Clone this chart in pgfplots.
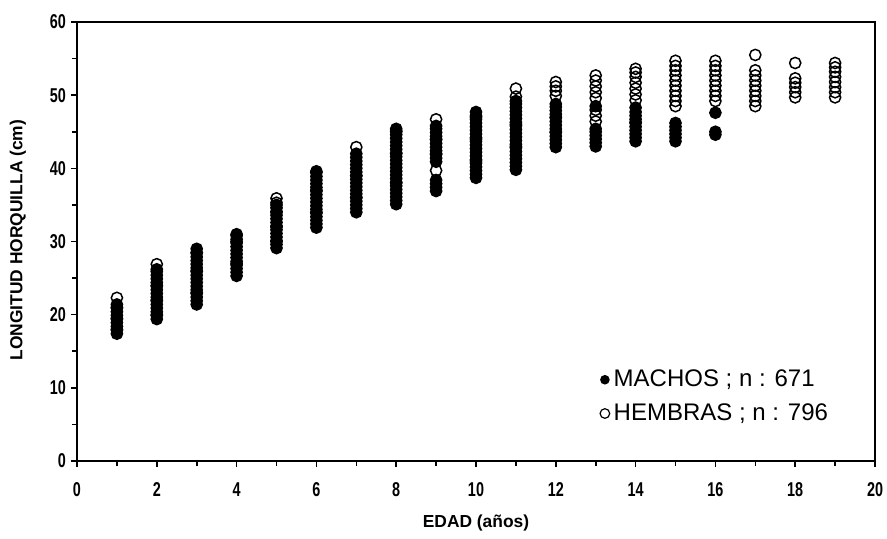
\documentclass[border=0pt]{standalone}
\usepackage{fontspec}
\setmainfont{Liberation Sans}
\newfontfamily\tickfont{Liberation Sans}[FakeStretch=0.72]
\usepackage{pgfplots}
\pgfplotsset{compat=1.18}

\begin{document}
\begin{tikzpicture}
\useasboundingbox (-38.5pt,-38.5pt) rectangle (405pt,230.5pt);
\begin{axis}[
    at={(0,0)}, anchor=south west,
    scale only axis,
    width=399pt, height=219.5pt,
    xmin=0, xmax=20, ymin=0, ymax=60,
    clip=false,
    axis lines=box,
    xtick={0,2,...,20}, minor xtick={1,3,...,19},
    ytick={0,10,...,60}, minor ytick={5,15,...,55},
    tick align=outside,
    xtick pos=left, ytick pos=left,
    major tick length=3pt, minor tick length=2.5pt,
    major tick style={black, line width=0.8pt},
    minor tick style={black, line width=0.8pt},
    axis line style={black, line width=1pt},
    /pgf/number format/assume math mode=true,
    ticklabel style={font=\tickfont\bfseries\fontsize{10}{12}\selectfont},
    xticklabel style={anchor=center, yshift=-11.5pt},
    yticklabel style={anchor=east, xshift=1pt},
    xlabel={EDAD (años)},
    ylabel={LONGITUD HORQUILLA (cm)},
    label style={font=\bfseries\fontsize{8.7}{10}\selectfont},
    xlabel style={at={(axis description cs:0.5,-0.141)}, anchor=center},
    ylabel style={at={(axis description cs:-0.074,0.503)}, anchor=center, rotate=0},
    legend style={at={(axis cs:12.95,8.8)}, anchor=west, draw=none, fill=none,
        font=\fontsize{12}{14}\selectfont, row sep=3pt,
        legend cell align=left},
    legend image code/.code={\draw[#1] plot coordinates {(0.15cm,0cm)};},
]
% top and right edges of the frame
\addplot[black, line width=1pt, no marks, forget plot] coordinates {(0,60) (20,60) (20,0)};
% hembras (open circles), drawn first
\addplot[only marks, mark=o, mark size=2.8pt, mark options={line width=0.75pt, draw=black, fill=white}, forget plot]
coordinates {
(1,18.0) (1,19.5) (1,21.0) (1,22.3)
(2,20.0) (2,22.0) (2,24.0) (2,26.9)
(3,23.0) (3,26.0) (3,28.5)
(4,27.0) (4,30.0)
(5,30.0) (5,32.0) (5,34.0) (5,35.3) (5,35.9)
(6,34.0) (6,37.0)
(7,36.0) (7,39.0) (7,42.9)
(8,38.0) (8,42.0) (8,45.0)
(9,39.7) (9,42.0) (9,44.0) (9,46.7)
(10,41.0) (10,44.0) (10,47.0)
(11,43.0) (11,46.0) (11,49.8) (11,50.9)
(12,45.0) (12,47.0) (12,49.9) (12,50.6) (12,51.2) (12,51.8)
(13,46.4) (13,47.2) (13,48.0) (13,49.6) (13,50.4) (13,51.2) (13,52.0) (13,52.7)
(14,46.3) (14,49.3) (14,50.1) (14,50.9) (14,51.7) (14,52.5) (14,53.1) (14,53.6)
(15,48.5) (15,49.2) (15,49.9) (15,50.6) (15,51.3) (15,52.0) (15,52.7) (15,53.4) (15,54.0) (15,54.7)
(16,49.2) (16,49.9) (16,50.6) (16,51.3) (16,52.0) (16,52.7) (16,53.4) (16,54.0) (16,54.7)
(17,48.5) (17,49.2) (17,49.9) (17,50.6) (17,51.3) (17,52.0) (17,52.7) (17,53.4) (17,55.5)
(18,49.7) (18,50.4) (18,51.1) (18,51.7) (18,52.3) (18,54.4)
(19,49.7) (19,50.4) (19,51.1) (19,51.8) (19,52.5) (19,53.2) (19,53.8) (19,54.4)
};
% machos (filled circles), drawn on top
\addplot[only marks, mark=*, mark size=2.8pt, mark options={line width=0.75pt, draw=black, fill=black},
    legend image post style={mark size=2pt}]
coordinates {
(1,17.4) (1,17.9) (1,18.4) (1,18.9) (1,19.4) (1,19.9) (1,20.4) (1,20.9) (1,21.4)
(2,19.4) (2,19.9) (2,20.4) (2,20.9) (2,21.4) (2,21.9) (2,22.4) (2,22.9) (2,23.4) (2,23.9) (2,24.4) (2,24.9) (2,25.4) (2,25.9) (2,26.2)
(3,21.4) (3,21.9) (3,22.4) (3,22.9) (3,23.4) (3,23.9) (3,24.4) (3,24.9) (3,25.4) (3,25.9) (3,26.4) (3,26.9) (3,27.4) (3,27.9) (3,28.4) (3,29.0)
(4,25.3) (4,25.8) (4,26.3) (4,26.8) (4,27.3) (4,27.8) (4,28.3) (4,28.8) (4,29.3) (4,29.8) (4,30.3) (4,30.8) (4,31.0)
(5,29.1) (5,29.6) (5,30.1) (5,30.6) (5,31.1) (5,31.6) (5,32.1) (5,32.6) (5,33.1) (5,33.6) (5,34.1) (5,34.6) (5,35.0)
(6,31.9) (6,32.4) (6,32.9) (6,33.4) (6,33.9) (6,34.4) (6,34.9) (6,35.4) (6,35.9) (6,36.4) (6,36.9) (6,37.4) (6,37.9) (6,38.4) (6,38.9) (6,39.4) (6,39.6)
(7,34.0) (7,34.5) (7,35.0) (7,35.5) (7,36.0) (7,36.5) (7,37.0) (7,37.5) (7,38.0) (7,38.5) (7,39.0) (7,39.5) (7,40.0) (7,40.5) (7,41.0) (7,41.5) (7,42.0)
(8,35.1) (8,35.6) (8,36.1) (8,36.6) (8,37.1) (8,37.6) (8,38.1) (8,38.6) (8,39.1) (8,39.6) (8,40.1) (8,40.6) (8,41.1) (8,41.6) (8,42.1) (8,42.6) (8,43.1) (8,43.6) (8,44.1) (8,44.6) (8,45.1) (8,45.4)
(9,36.9) (9,37.4) (9,37.9) (9,38.4) (9,40.9) (9,41.4) (9,41.9) (9,42.4) (9,42.9) (9,43.4) (9,43.9) (9,44.4) (9,44.9) (9,45.4) (9,45.8)
(10,38.7) (10,39.2) (10,39.7) (10,40.2) (10,40.7) (10,41.2) (10,41.7) (10,42.2) (10,42.7) (10,43.2) (10,43.7) (10,44.2) (10,44.7) (10,45.2) (10,45.7) (10,46.2) (10,46.7) (10,47.2) (10,47.7)
(11,39.8) (11,40.3) (11,40.8) (11,41.3) (11,41.8) (11,42.3) (11,42.8) (11,43.3) (11,43.8) (11,44.3) (11,44.8) (11,45.3) (11,45.8) (11,46.3) (11,46.8) (11,47.3) (11,47.8) (11,48.3) (11,48.8) (11,49.2)
(12,42.9) (12,43.4) (12,43.9) (12,44.4) (12,44.9) (12,45.4) (12,45.9) (12,46.4) (12,46.9) (12,47.4) (12,47.9) (12,48.4) (12,48.8)
(13,43.0) (13,43.5) (13,44.0) (13,44.5) (13,45.0) (13,45.4) (13,48.5)
(14,43.7) (14,44.2) (14,44.7) (14,45.2) (14,45.7) (14,46.2) (14,46.7) (14,47.2) (14,47.7) (14,48.3)
(15,43.7) (15,44.2) (15,44.7) (15,45.2) (15,45.7) (15,46.2)
(16,44.6) (16,45.0) (16,47.6)
};
\addlegendentry{MACHOS ; n : 671}
\addlegendimage{only marks, mark=o, mark size=2.4pt, mark options={line width=0.6pt}}
\addlegendentry{HEMBRAS ; n : 796}
\end{axis}
\end{tikzpicture}
\end{document}
